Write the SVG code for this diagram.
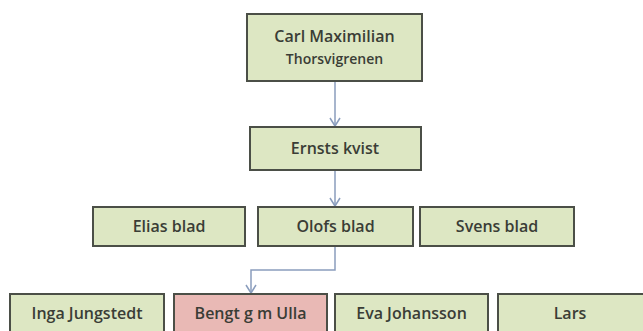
<svg xmlns="http://www.w3.org/2000/svg" width="643" height="331" viewBox="0 0 643 331">
<style>
.n{fill:#dde7c3;stroke:#4b4f47;stroke-width:2}
.r{fill:#e9b9b5;stroke:#4b4f47;stroke-width:2}
.t{font-family:"Open Sans","Liberation Sans",sans-serif;font-size:16px;font-weight:600;fill:#3a3d36;text-anchor:middle}
.c{fill:none;stroke:#8a9dbd;stroke-width:1.5}
</style>
<defs>
<marker id="a" markerWidth="12" markerHeight="12" refX="9" refY="6" orient="auto" markerUnits="userSpaceOnUse" viewBox="0 0 12 12">
<path d="M1,1 L9,6 L1,11" fill="none" stroke="#8a9dbd" stroke-width="1.5"/>
</marker>
</defs>
<rect width="643" height="331" fill="#ffffff"/>
<g id="connectors">
<path class="c" d="M335,81 V126" marker-end="url(#a)"/>
<path class="c" d="M335,170 V206" marker-end="url(#a)"/>
<path class="c" d="M335,246 V270 H251 V293" marker-end="url(#a)"/>
</g>
<g id="carl"><rect class="n" x="247" y="14" width="175" height="67"/>
<text class="t" x="334.5" y="42">Carl Maximilian</text>
<text class="t" x="334.5" y="64" style="font-size:14px">Thorsvigrenen</text></g>
<g id="ernst"><rect class="n" x="250" y="127" width="171" height="43"/>
<text class="t" x="335" y="154">Ernsts kvist</text></g>
<g id="elias"><rect class="n" x="93" y="207" width="152" height="39"/>
<text class="t" x="169" y="232">Elias blad</text></g>
<g id="olof"><rect class="n" x="258" y="207" width="155" height="39"/>
<text class="t" x="335.5" y="232">Olofs blad</text></g>
<g id="sven"><rect class="n" x="420" y="207" width="154" height="39"/>
<text class="t" x="497" y="232">Svens blad</text></g>
<g id="inga"><rect class="n" x="10" y="294" width="154" height="45"/>
<text class="t" x="87" y="319">Inga Jungstedt</text></g>
<g id="bengt"><rect class="r" x="174" y="294" width="153" height="45"/>
<text class="t" x="250.5" y="319">Bengt g m Ulla</text></g>
<g id="eva"><rect class="n" x="335" y="294" width="153" height="45"/>
<text class="t" x="411.5" y="319">Eva Johansson</text></g>
<g id="lars"><rect class="n" x="498" y="294" width="155" height="45"/>
<text class="t" x="570" y="319">Lars</text></g>
</svg>
